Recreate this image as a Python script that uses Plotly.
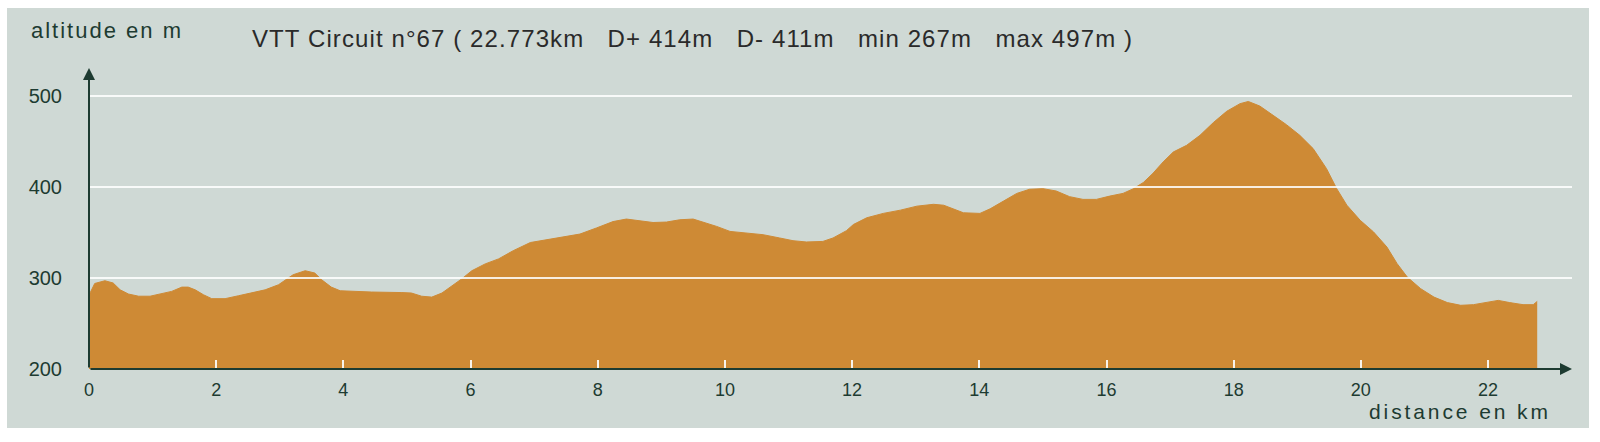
import plotly.graph_objects as go

# ---- data ----
distance_km = [0.00, 0.02, 0.09, 0.25, 0.38, 0.49, 0.62, 0.78, 0.96, 1.14, 1.30, 1.46, 1.56, 1.67,
               1.80, 1.93, 2.14, 2.35, 2.56, 2.77, 2.98, 3.11, 3.21, 3.40, 3.55, 3.66, 3.81, 3.95,
               4.13, 4.44, 4.92, 5.07, 5.23, 5.39, 5.55, 5.70, 5.86, 6.02, 6.23, 6.44, 6.67, 6.94,
               7.20, 7.46, 7.72, 7.98, 8.24, 8.45, 8.66, 8.87, 9.08, 9.29, 9.50, 9.66, 9.87, 10.08,
               10.34, 10.60, 10.86, 11.07, 11.28, 11.54, 11.70, 11.91, 12.02, 12.23, 12.49, 12.76,
               13.02, 13.28, 13.44, 13.60, 13.75, 14.01, 14.17, 14.38, 14.59, 14.79, 15.00, 15.21,
               15.42, 15.63, 15.84, 16.05, 16.26, 16.42, 16.58, 16.73, 16.89, 17.05, 17.26, 17.47,
               17.68, 17.89, 18.10, 18.23, 18.41, 18.62, 18.83, 19.04, 19.25, 19.46, 19.62, 19.78,
               19.99, 20.20, 20.41, 20.57, 20.73, 20.94, 21.15, 21.36, 21.57, 21.77, 21.98, 22.16,
               22.34, 22.55, 22.71, 22.773]
altitude_m = [282, 284, 294, 297, 294.5, 287, 282.4, 280, 280, 282.7, 285.3, 290, 290, 287,
              281.6, 277.3, 277.3, 280.5, 283.5, 287, 292.6, 298.9, 303.6, 308, 305.5, 298, 290, 286,
              285.4, 284.6, 284, 283.5, 280, 279, 283.5, 291, 299, 308, 315.5, 321, 330, 339,
              342, 345.7, 348.3, 355, 362, 364.8, 363.3, 361, 361.5, 364, 364.8, 361.5, 356.7, 351.2,
              349.5, 347.6, 344, 341, 339.6, 340.2, 344, 352, 358.8, 366.2, 371, 374.6,
              379, 381, 380, 376, 371.7, 371, 376, 384.5, 393, 397.5, 398.2, 395.6,
              389.4, 386.4, 386.4, 390, 393, 398, 405, 415, 427.5, 438.5, 445.8, 456.8,
              470.8, 483.2, 491.6, 494, 489, 478.8, 468.5, 456.8, 442.2, 420.2, 398.2, 380,
              363.4, 350.6, 334, 315.8, 301, 288.3, 279, 273, 270, 270.7, 273.6, 275.4,
              273, 270.7, 270.7, 274.3]
x_ticks = [0, 2, 4, 6, 8, 10, 12, 14, 16, 18, 20, 22]
y_ticks = [200, 300, 400, 500]
grid_values = [300, 400, 500]
title_text = "VTT Circuit n°67 (\u00a022.773km\u00a0\u00a0 D+\u00a0414m\u00a0\u00a0 D-\u00a0411m\u00a0\u00a0 min\u00a0267m\u00a0\u00a0 max\u00a0497m\u00a0)"
y_label = "altitude en m"
x_label = "distance en km"

# ---- layout geometry ----
W, H = 1600, 442
ML, MR, MT, MB = 89, 28, 68, 73
X_MAX, Y_MIN, Y_MAX = 23.32, 200, 530.8
PW, PH = W - ML - MR, H - MT - MB

def px(x):
    return (x - ML) / PW

def py(y):
    return (H - MB - y) / PH

BG = "#cfd9d5"
FILL = "#ce8a35"
DARK = "#1d3b31"
FONT = "Liberation Sans, Arial, sans-serif"

fig = go.Figure()
fig.add_trace(go.Scatter(
    x=distance_km, y=altitude_m, mode="lines", fill="tozeroy",
    fillcolor=FILL, line=dict(color=FILL, width=1), hoverinfo="x+y",
    showlegend=False,
))

shapes = [dict(type="rect", xref="paper", yref="paper",
               x0=px(7), x1=px(1589), y0=py(428), y1=py(8),
               fillcolor=BG, line=dict(width=0), layer="below")]
for v in grid_values:
    shapes.append(dict(type="line", xref="paper", yref="y", x0=0, x1=1, y0=v, y1=v,
                       line=dict(color="rgba(255,255,255,0.85)", width=2), layer="above"))

annotations = [
    # axis arrows
    dict(x=0, y=Y_MAX, ax=0, ay=Y_MIN, xref="x", yref="y", axref="x", ayref="y",
         text="", showarrow=True, arrowhead=2, arrowsize=1.2, arrowwidth=2, arrowcolor=DARK),
    dict(x=X_MAX, y=Y_MIN, ax=0, ay=Y_MIN, xref="x", yref="y", axref="x", ayref="y",
         text="", showarrow=True, arrowhead=2, arrowsize=1.2, arrowwidth=2, arrowcolor=DARK),
    dict(x=px(29), y=py(31), xref="paper", yref="paper", xanchor="left", yanchor="middle",
         showarrow=False, text='<span style="letter-spacing:2px">' + y_label + '</span>',
         font=dict(family=FONT, size=22, color=DARK)),
    dict(x=px(250), y=py(39), xref="paper", yref="paper", xanchor="left", yanchor="middle",
         showarrow=False, text='<span style="letter-spacing:1.1px">' + title_text + '</span>',
         font=dict(family=FONT, size=24, color="#2a2a2a")),
    dict(x=px(1367), y=py(411), xref="paper", yref="paper", xanchor="left", yanchor="middle",
         showarrow=False, text='<span style="letter-spacing:2.9px">' + x_label + '</span>',
         font=dict(family=FONT, size=21, color=DARK)),
]

fig.update_layout(
    width=W, height=H, autosize=False,
    margin=dict(l=ML, r=MR, t=MT, b=MB, pad=0),
    paper_bgcolor="white", plot_bgcolor="rgba(0,0,0,0)",
    shapes=shapes, annotations=annotations,
    xaxis=dict(range=[0, X_MAX], tickvals=x_ticks, ticktext=[str(t) for t in x_ticks],
               ticks="inside", ticklen=9, tickwidth=2, tickcolor="rgba(255,255,255,0.9)",
               showgrid=False, zeroline=False, showline=False, layer="above traces",
               ticklabelstandoff=8,
               tickfont=dict(family=FONT, size=18, color=DARK), fixedrange=True),
    yaxis=dict(range=[Y_MIN, Y_MAX], tickvals=y_ticks, ticktext=[str(t) for t in y_ticks],
               ticks="", showgrid=False, zeroline=False, showline=False,
               ticklabelstandoff=26,
               tickfont=dict(family=FONT, size=20, color=DARK), fixedrange=True),
)

fig.write_html("out.html", config={"displayModeBar": False},
               post_script="document.body.style.margin='0';document.body.style.overflow='hidden';")
